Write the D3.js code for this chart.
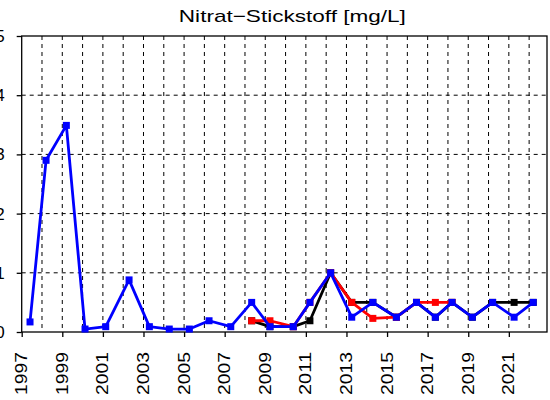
<!DOCTYPE html>
<html>
<head>
<meta charset="utf-8">
<script src="https://cdn.jsdelivr.net/npm/d3@7"></script>
<style>
  html, body { margin: 0; padding: 0; background: #fff; }
  svg { display: block; font-family: "Liberation Sans", Arial, sans-serif; }
</style>
</head>
<body>
<svg id="chart" width="550" height="400"></svg>
<script>
// ---- data ----
const title = "Nitrat\u2212Stickstoff [mg/L]";
const dates = [1997.41, 1998.2, 1999.2, 2000.12, 2001.14, 2002.29, 2003.29, 2004.27, 2005.26, 2006.23,
               2007.3, 2008.33, 2009.23, 2010.38, 2011.2, 2012.22, 2013.26, 2014.3, 2015.46, 2016.45,
               2017.38, 2018.2, 2019.2, 2020.2, 2021.26, 2022.2];
const seriesBlack = [null, null, null, null, null, null, null, null, null, null,
                     null, 0.19, 0.09, 0.09, 0.19, 1.0, 0.5, 0.5, 0.25, 0.5,
                     0.25, 0.5, 0.25, 0.5, 0.5, 0.5];
const seriesRed   = [null, null, null, null, null, null, null, null, null, null,
                     null, 0.19, 0.19, 0.09, 0.5, 1.0, 0.5, 0.23, 0.25, 0.5,
                     0.5, 0.5, null, null, null, null];
const seriesBlue  = [0.17, 2.9, 3.49, 0.05, 0.09, 0.88, 0.09, 0.05, 0.05, 0.19,
                     0.09, 0.5, 0.09, 0.09, 0.5, 1.0, 0.25, 0.5, 0.25, 0.5,
                     0.25, 0.5, 0.25, 0.5, 0.25, 0.5];
const yTicks = [0, 1, 2, 3, 4, 5];
const yTickLabels = ["0", "1", "2", "3", "4", "5"];
const xTickYears = [1997, 1999, 2001, 2003, 2005, 2007, 2009, 2011, 2013, 2015, 2017, 2019, 2021];
const xGridYears = d3.range(1998, 2023);
const xDomain = [1997, 2022.88];
const yDomain = [0, 5];

// ---- layout ----
const svg = d3.select("#chart");
const plot = { left: 21.7, right: 547, top: 36, bottom: 332 };
const x = d3.scaleLinear().domain(xDomain).range([plot.left, plot.right]);
const y = d3.scaleLinear().domain(yDomain).range([plot.bottom, plot.top]);

// grid
const grid = svg.append("g").attr("stroke", "#000").attr("stroke-width", 1).attr("stroke-dasharray", "4,4");
grid.selectAll("line.h").data(yTicks.filter(v => v > 0 && v < 5)).join("line")
  .attr("class", "h")
  .attr("x1", plot.left).attr("x2", plot.right)
  .attr("y1", d => y(d)).attr("y2", d => y(d));
grid.selectAll("line.v").data(xGridYears).join("line")
  .attr("class", "v")
  .attr("x1", d => x(d)).attr("x2", d => x(d))
  .attr("y1", plot.top).attr("y2", plot.bottom);

// box
svg.append("rect")
  .attr("x", plot.left).attr("y", plot.top)
  .attr("width", plot.right - plot.left).attr("height", plot.bottom - plot.top)
  .attr("fill", "none").attr("stroke", "#000").attr("stroke-width", 1.3);

// axes
const yAxis = d3.axisLeft(y).tickValues(yTicks).tickFormat((d, i) => yTickLabels[i])
  .tickSize(5).tickSizeOuter(0).tickPadding(12);
const gy = svg.append("g").attr("transform", `translate(${plot.left},0)`).call(yAxis);
gy.select(".domain").remove();
gy.selectAll("line").attr("stroke-width", 1.3);
gy.selectAll("text").attr("font-size", 17).attr("fill", "#000")
  .attr("font-family", "Liberation Sans, Arial, sans-serif");

const xAxis = d3.axisBottom(x).tickValues(xTickYears).tickFormat(d3.format("d"))
  .tickSize(5).tickSizeOuter(0);
const gx = svg.append("g").attr("transform", `translate(0,${plot.bottom})`).call(xAxis);
gx.select(".domain").remove();
gx.selectAll("line").attr("stroke-width", 1.3);
gx.selectAll("text")
  .attr("font-size", 16.5).attr("fill", "#000")
  .attr("font-family", "Liberation Sans, Arial, sans-serif")
  .attr("text-anchor", "end")
  .attr("transform", "rotate(-90)")
  .attr("x", -20).attr("y", 0).attr("dy", "0.3em")
  .attr("textLength", 43).attr("lengthAdjust", "spacingAndGlyphs");

// title
svg.append("text")
  .attr("x", (plot.left + plot.right) / 2 + 8).attr("y", 22)
  .attr("text-anchor", "middle").attr("font-size", 17).attr("fill", "#000")
  .attr("textLength", 227).attr("lengthAdjust", "spacingAndGlyphs")
  .text(title);

// series
const series = [
  { values: seriesBlack, color: "#000000" },
  { values: seriesRed, color: "#ff0000" },
  { values: seriesBlue, color: "#0000ff" }
];
const line = d3.line().defined(d => d.v != null).x(d => x(d.t)).y(d => y(d.v));
const ms = 7;
series.forEach(s => {
  const pts = dates.map((t, i) => ({ t, v: s.values[i] }));
  const g = svg.append("g");
  g.append("path").datum(pts).attr("d", line)
    .attr("fill", "none").attr("stroke", s.color).attr("stroke-width", 2.8)
    .attr("stroke-linejoin", "round");
  g.selectAll("rect").data(pts.filter(d => d.v != null)).join("rect")
    .attr("x", d => x(d.t) - ms / 2).attr("y", d => y(d.v) - ms / 2)
    .attr("width", ms).attr("height", ms).attr("fill", s.color);
});
</script>
</body>
</html>
